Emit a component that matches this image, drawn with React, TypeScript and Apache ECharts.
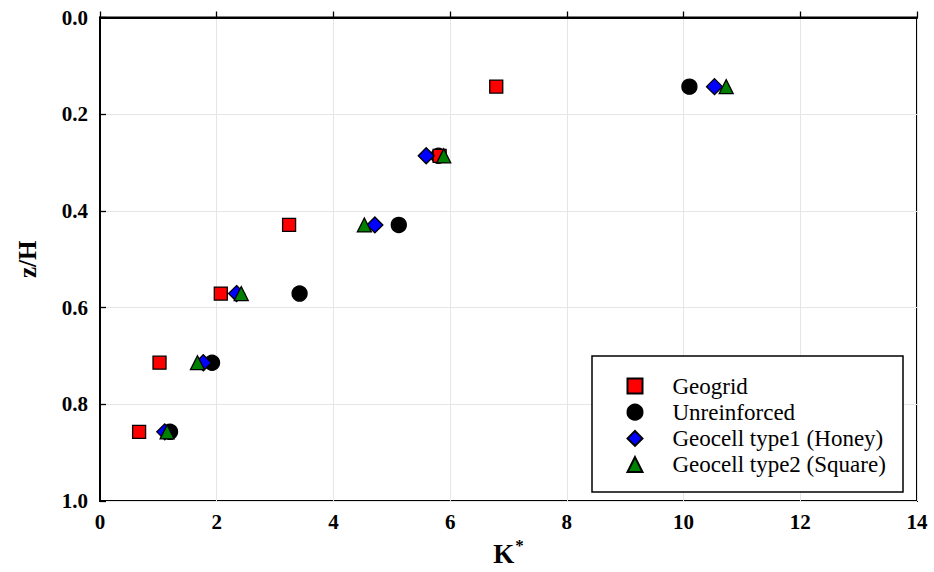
import React, { useEffect, useRef } from "react";
import * as echarts from "echarts";

const zValues = [0.143, 0.286, 0.429, 0.571, 0.714, 0.857];
const geogridK = [6.79, 5.82, 3.24, 2.07, 1.02, 0.67];
const unreinforcedK = [10.1, 5.8, 5.12, 3.42, 1.92, 1.2];
const geocell1K = [10.53, 5.59, 4.71, 2.34, 1.77, 1.11];
const geocell2K = [10.73, 5.89, 4.53, 2.42, 1.67, 1.15];

const legendOrder = ["Geogrid", "Unreinforced", "Geocell type1 (Honey)", "Geocell type2 (Square)"];

const FONT = "'Liberation Serif', 'Times New Roman', serif";

function pairs(ks: number[]) {
  return ks.map((k, i) => [k, zValues[i]]);
}

export default function App() {
  const ref = useRef<HTMLDivElement>(null);
  useEffect(() => {
    if (!ref.current) return;
    const chart = echarts.init(ref.current, null, { renderer: "svg" });
    const border = { borderColor: "#000", borderWidth: 1.3, opacity: 1 };
    chart.setOption({
      animation: false,
      backgroundColor: "#fff",
      grid: {
        left: 100,
        right: 17,
        top: 17.5,
        bottom: 70,
        show: true,
        borderColor: "#000",
        borderWidth: 2,
        backgroundColor: "transparent",
      },
      xAxis: {
        type: "value",
        min: 0,
        max: 14,
        interval: 2,
        name: "{k|K}{s|*}",
        nameLocation: "middle",
        nameGap: 36,
        nameTextStyle: {
          rich: {
            k: { fontFamily: FONT, fontWeight: "bold", fontSize: 27, color: "#000", lineHeight: 30, verticalAlign: "bottom" },
            s: { fontFamily: FONT, fontWeight: "bold", fontSize: 17, color: "#000", lineHeight: 17, verticalAlign: "top", padding: [0, 0, 0, 1] },
          },
        },
        axisLine: { show: true, lineStyle: { color: "#000", width: 2 } },
        axisTick: { show: true, inside: true, length: 6, lineStyle: { color: "#000", width: 1.3 } },
        axisLabel: { fontFamily: FONT, fontWeight: "bold", fontSize: 21, color: "#000", margin: 10 },
        splitLine: { show: true, lineStyle: { color: "#e6e6e6", width: 1 } },
      },
      yAxis: {
        type: "value",
        min: 0,
        max: 1,
        interval: 0.2,
        inverse: true,
        name: "z/H",
        nameLocation: "middle",
        nameRotate: 90,
        nameGap: 60,
        nameTextStyle: { fontFamily: FONT, fontWeight: "bold", fontSize: 25, color: "#000" },
        axisLine: { show: true, lineStyle: { color: "#000", width: 2 } },
        axisTick: { show: true, inside: true, length: 6, lineStyle: { color: "#000", width: 1.3 } },
        axisLabel: {
          fontFamily: FONT,
          fontWeight: "bold",
          fontSize: 21,
          color: "#000",
          margin: 12,
          formatter: (v: number) => v.toFixed(1),
        },
        splitLine: { show: true, lineStyle: { color: "#e6e6e6", width: 1 } },
      },
      legend: {
        data: legendOrder,
        orient: "vertical",
        left: 626.5,
        top: 374.5,
        itemWidth: 15,
        itemHeight: 15,
        itemGap: 3.2,
        padding: 0,
        z: 20,
        textStyle: {
          fontFamily: FONT,
          fontSize: 23,
          color: "#000",
          padding: [0, 0, 0, 25],
        },
      },
      graphic: [
        {
          type: "rect",
          shape: { x: 592, y: 356, width: 311, height: 136 },
          style: { fill: "#fff", stroke: "#000", lineWidth: 1.5 },
          z: 1,
          silent: true,
        },
      ],
      series: [
        {
          name: "Unreinforced",
          type: "scatter",
          symbol: "circle",
          symbolSize: 15,
          itemStyle: { color: "#000", ...border },
          data: pairs(unreinforcedK),
          z: 2,
        },
        {
          name: "Geogrid",
          type: "scatter",
          symbol: "rect",
          symbolSize: 13,
          itemStyle: { color: "#ff0000", ...border },
          data: pairs(geogridK),
          z: 3,
        },
        {
          name: "Geocell type1 (Honey)",
          type: "scatter",
          symbol: "diamond",
          symbolSize: 16,
          itemStyle: { color: "#0000ff", ...border },
          data: pairs(geocell1K),
          z: 4,
        },
        {
          name: "Geocell type2 (Square)",
          type: "scatter",
          symbol: "triangle",
          symbolSize: 14,
          itemStyle: { color: "#008000", ...border },
          data: pairs(geocell2K),
          z: 5,
        },
      ],
    });
    return () => chart.dispose();
  }, []);
  return (
    <div
      ref={ref}
      style={{ position: "fixed", left: 0, top: 0, width: 934, height: 572, background: "#fff" }}
    />
  );
}
